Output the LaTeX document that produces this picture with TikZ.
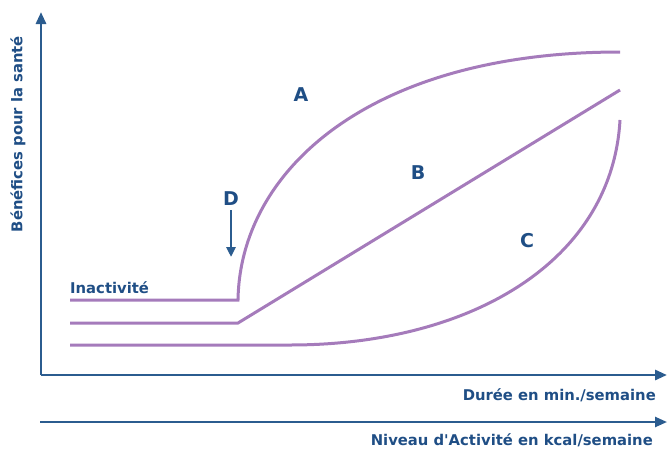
\documentclass[tikz,border=0pt]{standalone}
\usepackage{fontspec}
\setmainfont{DejaVu Sans}
\usetikzlibrary{arrows.meta}
\definecolor{axisblue}{HTML}{2B5C8F}
\definecolor{txtblue}{HTML}{1F4E85}
\definecolor{curvepurple}{HTML}{A57BBB}
\tikzset{
  axisline/.style={draw=axisblue, line width=2.8pt, -{Triangle[length=12pt,width=10pt]}},
  curve/.style={draw=curvepurple, line width=3pt},
  lbl/.style={text=txtblue, font=\fontsize{14.8}{17}\selectfont\bfseries, inner sep=0pt},
  biglbl/.style={text=txtblue, font=\fontsize{19}{21}\selectfont\bfseries, inner sep=0pt},
}
\begin{document}
\begin{tikzpicture}[x=1pt,y=-1pt]
\useasboundingbox (0,0) rectangle (671,450);
% axes
\coordinate (O) at (41,375);
\coordinate (Ytop) at (41,12);
\coordinate (Xend) at (667,375);
\coordinate (L2s) at (40,422);
\coordinate (L2e) at (667,422);
\draw[axisline] (O) -- (Ytop);
\draw[axisline] (O) -- (Xend);
\draw[axisline, line width=2.4pt] (L2s) -- (L2e);
% axis labels
\node[lbl, rotate=90] (ylab) at (18,134) {Bénéfices pour la santé};
\node[lbl, anchor=east] (xlab) at (656,395) {Durée en min./semaine};
\node[lbl, anchor=east] (x2lab) at (653,440) {Niveau d\textquotesingle Activité en kcal/semaine};
% curve A (inactivity then steep rise)
\coordinate (a0) at (70,300);
\coordinate (a1) at (238,300);
\coordinate (a2) at (620,52);
\draw[curve] (a0) -- (a1) .. controls (240,170) and (370,52) .. (a2);
% curve B
\coordinate (b0) at (70,323);
\coordinate (b1) at (238,323);
\coordinate (b2) at (620,90);
\draw[curve] (b0) -- (b1) -- (b2);
% curve C
\coordinate (c0) at (70,345);
\coordinate (c1) at (290,345);
\coordinate (c2) at (620,120);
\draw[curve] (c0) -- (c1) .. controls (470,345) and (612,262) .. (c2);
% labels
\node[lbl, anchor=base west] (inact) at (70,293) {Inactivité};
\node[biglbl] (A) at (301,95) {A};
\node[biglbl] (B) at (418,173) {B};
\node[biglbl] (C) at (527,241) {C};
\node[biglbl] (D) at (231,199) {D};
\coordinate (Dend) at (231,257);
\draw[draw=axisblue, line width=2.5pt, -{Triangle[length=10pt,width=9pt]}] (D.south) ++(0,4) -- (Dend);
\end{tikzpicture}
\end{document}
